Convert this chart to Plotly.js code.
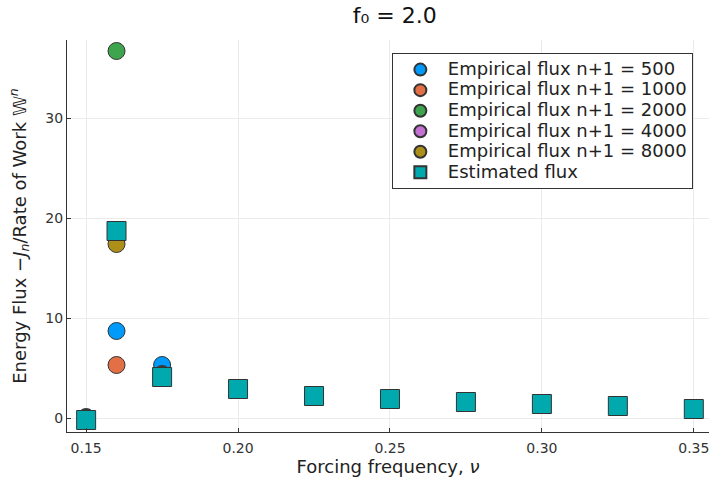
<!DOCTYPE html>
<html>
<head>
<meta charset="utf-8">
<script src="https://cdn.plot.ly/plotly-3.0.1.min.js"></script>
<style>
body{margin:0;padding:0;background:#fff}
#chart{width:710px;height:481px}
.legendtext{font-size:18px !important}
</style>
</head>
<body>
<div id="chart"></div>
<script>
// Empirical flux data (forcing frequency vs energy flux ratio)
const empX = [0.15, 0.16, 0.175];
const emp500 = [0.1, 8.7, 5.3];
const emp1000 = [0.0, 5.3, 4.4];
const emp2000 = [0.0, 36.7, 4.3];
const emp4000 = [0.0, 18.8, 4.3];
const emp8000 = [0.0, 17.4, 4.3];
const empLabels = ["Empirical flux n+1 = 500", "Empirical flux n+1 = 1000", "Empirical flux n+1 = 2000", "Empirical flux n+1 = 4000", "Empirical flux n+1 = 8000"];
// Estimated flux
const estX = [0.15, 0.16, 0.175, 0.2, 0.225, 0.25, 0.275, 0.3, 0.325, 0.35];
const estY = [-0.2, 18.7, 4.1, 2.9, 2.2, 1.9, 1.6, 1.4, 1.2, 0.9];
const xTicks = [0.15, 0.20, 0.25, 0.30, 0.35];
const yTicks = [0, 10, 20, 30];

const colors = ["#009AFA", "#E36F47", "#3EA44E", "#C371D2", "#AC8E18"];
const empSeries = [emp500, emp1000, emp2000, emp4000, emp8000];
const traces = empSeries.map((ys, i) => ({
  x: empX, y: ys, type: "scatter", mode: "markers", name: empLabels[i],
  marker: {symbol: "circle", size: 17, color: colors[i], line: {color: "#333", width: 1}}
}));
traces.push({
  x: estX, y: estY, type: "scatter", mode: "markers", name: "Estimated flux",
  marker: {symbol: "square", size: 19, color: "#00A9AD", line: {color: "#333", width: 1}}
});

const axisCommon = {
  showline: true, linecolor: "#333", linewidth: 1, mirror: false,
  ticks: "inside", ticklen: 4, tickcolor: "#333",
  showgrid: true, gridcolor: "#ebebeb", gridwidth: 1, zeroline: false,
  tickfont: {family: "DejaVu Sans", size: 14, color: "#333"}
};

const layout = {
  width: 710, height: 481,
  margin: {l: 67, r: 1, t: 40, b: 49},
  paper_bgcolor: "#fff", plot_bgcolor: "#fff",
  font: {family: "DejaVu Sans", color: "#222"},
  title: {text: "f₀ = 2.0", x: 0.556, xanchor: "center", y: 0.985, yanchor: "top", font: {family: "DejaVu Sans", size: 22, color: "#111"}},
  xaxis: Object.assign({}, axisCommon, {
    range: [0.1437, 0.355], tickvals: xTicks, ticktext: xTicks.map(v => v.toFixed(2)),
    ticklabelstandoff: 3,
    title: {text: "Forcing frequency, <i>ν</i>", font: {family: "DejaVu Sans", size: 18, color: "#222"}, standoff: 0}
  }),
  yaxis: Object.assign({}, axisCommon, {
    range: [-1.4, 37.8], tickvals: yTicks, ticktext: yTicks.map(String),
    title: {text: "Energy Flux −<i>J</i><sub><i>n</i></sub>/Rate of Work 𝕎<sup><i>n</i></sup>", font: {family: "DejaVu Sans", size: 18, color: "#222"}, standoff: 14}
  }),
  showlegend: true,
  legend: {
    x: 0.506, y: 0.966, xanchor: "left", yanchor: "top",
    bgcolor: "#fff", bordercolor: "#333", borderwidth: 1,
    font: {family: "DejaVu Sans", size: 13.5, color: "#222"},
    tracegroupgap: 0, itemsizing: "constant", itemwidth: 45
  }
};

Plotly.newPlot("chart", traces, layout, {displayModeBar: false, staticPlot: true});
</script>
</body>
</html>
